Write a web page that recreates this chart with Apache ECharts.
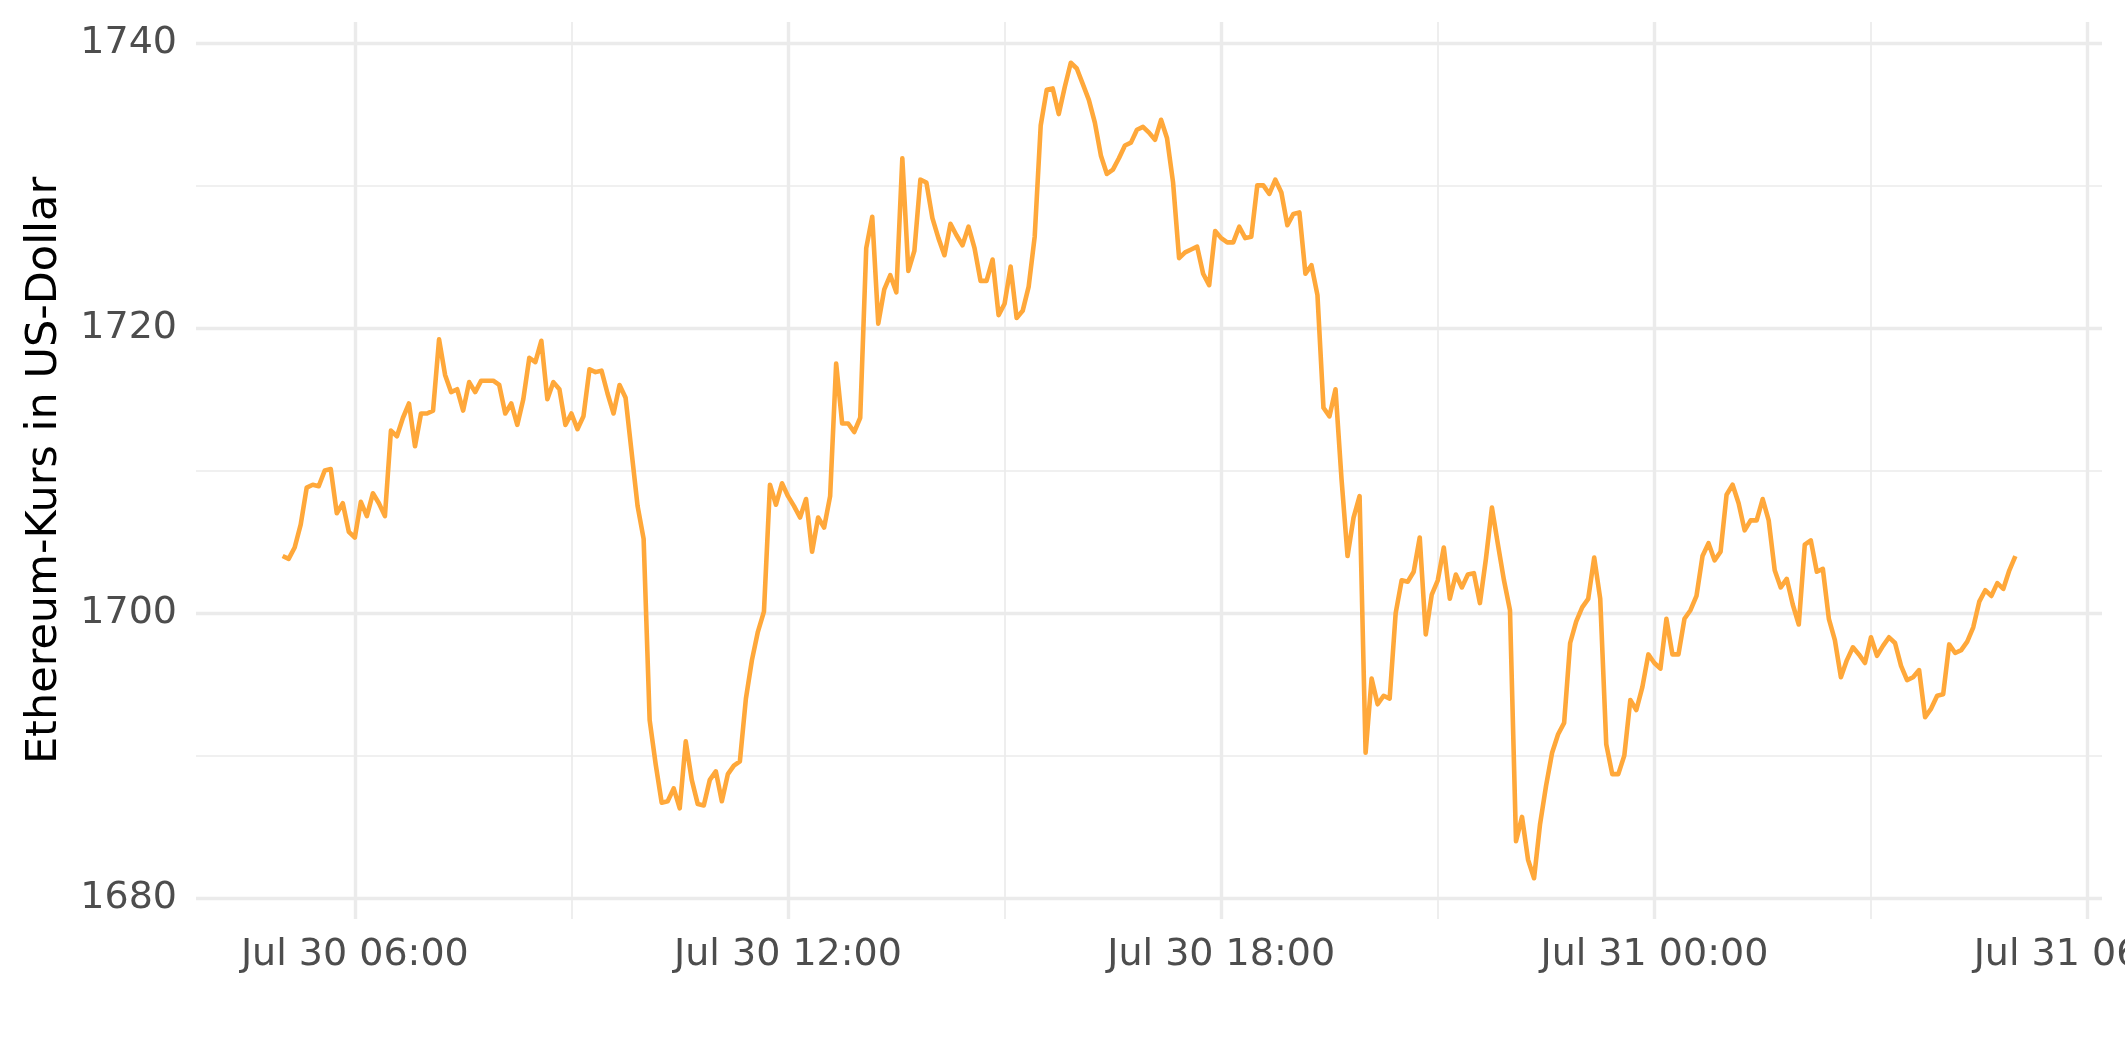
<!DOCTYPE html>
<html>
<head>
<meta charset="utf-8">
<script src="https://cdn.jsdelivr.net/npm/echarts@6/dist/echarts.min.js"></script>
<style>
html,body{margin:0;padding:0;background:#ffffff;}
#chart{width:2125px;height:1062px;}
</style>
</head>
<body>
<div id="chart"></div>
<script>
// Time axis: hours counted from Jul 30 00:00; one price every 5 minutes from 05:00
const startHour = 5;
const stepMinutes = 5;

// Ethereum price in US-Dollar
const prices = [
1704.0,1703.8,1704.6,1706.2,1708.8,1709.0,1708.9,1710.0,1710.1,1707.0,
1707.7,1705.7,1705.3,1707.8,1706.8,1708.4,1707.7,1706.8,1712.8,1712.4,
1713.7,1714.7,1711.7,1714.0,1714.0,1714.2,1719.2,1716.7,1715.5,1715.7,
1714.2,1716.2,1715.5,1716.3,1716.3,1716.3,1716.0,1714.0,1714.7,1713.2,
1715.0,1717.9,1717.6,1719.1,1715.0,1716.2,1715.7,1713.2,1714.0,1712.9,
1713.8,1717.1,1716.9,1717.0,1715.4,1714.0,1716.0,1715.1,1711.3,1707.5,
1705.2,1692.5,1689.4,1686.7,1686.8,1687.7,1686.3,1691.0,1688.3,1686.6,
1686.5,1688.3,1688.9,1686.8,1688.7,1689.3,1689.6,1694.0,1696.7,1698.7,
1700.1,1709.0,1707.6,1709.1,1708.2,1707.5,1706.7,1708.0,1704.3,1706.7,
1706.0,1708.2,1717.5,1713.3,1713.3,1712.7,1713.7,1725.6,1727.8,1720.3,
1722.7,1723.7,1722.5,1731.9,1724.0,1725.4,1730.4,1730.2,1727.7,1726.3,
1725.1,1727.3,1726.5,1725.8,1727.1,1725.6,1723.3,1723.3,1724.8,1720.9,
1721.7,1724.3,1720.7,1721.2,1722.9,1726.4,1734.2,1736.7,1736.8,1735.0,
1736.9,1738.6,1738.2,1737.1,1736.0,1734.4,1732.1,1730.8,1731.1,1731.9,
1732.8,1733.0,1733.9,1734.1,1733.7,1733.2,1734.6,1733.3,1730.2,1724.9,
1725.3,1725.5,1725.7,1723.8,1723.0,1726.8,1726.3,1726.0,1726.0,1727.1,
1726.3,1726.4,1730.0,1730.0,1729.4,1730.4,1729.5,1727.2,1728.0,1728.1,
1723.8,1724.4,1722.3,1714.4,1713.8,1715.7,1709.4,1704.0,1706.7,1708.2,
1690.2,1695.4,1693.6,1694.2,1694.0,1700.0,1702.3,1702.2,1702.9,1705.3,
1698.5,1701.3,1702.3,1704.6,1701.0,1702.7,1701.8,1702.7,1702.8,1700.7,
1703.8,1707.4,1704.8,1702.3,1700.2,1684.0,1685.7,1682.7,1681.4,1685.2,
1687.9,1690.2,1691.5,1692.3,1697.9,1699.4,1700.4,1701.0,1703.9,1701.0,
1690.8,1688.7,1688.7,1690.0,1693.9,1693.2,1694.8,1697.1,1696.5,1696.1,
1699.6,1697.1,1697.1,1699.6,1700.2,1701.2,1704.0,1704.9,1703.7,1704.3,
1708.3,1709.0,1707.7,1705.8,1706.5,1706.5,1708.0,1706.5,1703.0,1701.8,
1702.4,1700.6,1699.2,1704.8,1705.1,1702.9,1703.1,1699.6,1698.1,1695.5,
1696.7,1697.6,1697.1,1696.5,1698.3,1697.0,1697.7,1698.3,1697.9,1696.3,
1695.3,1695.5,1696.0,1692.7,1693.3,1694.2,1694.3,1697.8,1697.2,1697.4,
1698.0,1699.0,1700.8,1701.6,1701.2,1702.1,1701.7,1703.0,1704.0
];

// Tick values and labels
const xMajorTickHours = [6, 12, 18, 24, 30];
const xTickLabels = ['Jul 30 06:00', 'Jul 30 12:00', 'Jul 30 18:00', 'Jul 31 00:00', 'Jul 31 06:00'];
const yMajorTicks = [1680, 1700, 1720, 1740];
const yTitle = 'Ethereum-Kurs in US-Dollar';

// ---- build the chart ----
const hours = prices.map((_, i) => startHour + i * stepMinutes / 60);
const seriesData = prices.map((v, i) => [hours[i], v]);

const xLo = Math.min(...hours), xHi = Math.max(...hours);
const yLo = Math.min(...prices), yHi = Math.max(...prices);
const xPad = (xHi - xLo) * 0.05, yPad = (yHi - yLo) * 0.05;
const xMin = xLo - xPad, xMax = xHi + xPad;
const yMin = yLo - yPad, yMax = yHi + yPad;

const GRID = '#EBEBEB';
const FONT = 'DejaVu Sans';
const MAJOR_W = 3.4, MINOR_W = 1.7;
const TICK_FS = 38;

function xLabel(v) {
  const k = xMajorTickHours.findIndex(h => Math.abs(h - v) < 1e-6);
  return k >= 0 ? xTickLabels[k] : '';
}
function yLabel(v) {
  return yMajorTicks.some(t => Math.abs(t - v) < 1e-6) ? String(Math.round(v)) : '';
}

const chart = echarts.init(document.getElementById('chart'), null, {renderer: 'canvas'});
chart.setOption({
  animation: false,
  backgroundColor: '#ffffff',
  grid: {left: 196, right: 23, top: 22, bottom: 143, containLabel: false, outerBoundsMode: 'none'},
  xAxis: [
    { // minor vertical grid (every 3 hours)
      type: 'value', min: xMin, max: xMax, minInterval: 3, maxInterval: 3,
      axisLine: {show: false}, axisTick: {show: false}, axisLabel: {show: false},
      splitLine: {show: true, showMinLine: false, showMaxLine: false, lineStyle: {color: GRID, width: MINOR_W}}
    },
    { // major vertical grid + labels (every 6 hours)
      type: 'value', min: xMin, max: xMax, minInterval: 6, maxInterval: 6, position: 'bottom',
      axisLine: {show: false}, axisTick: {show: false},
      axisLabel: {show: true, formatter: xLabel, showMinLabel: false, showMaxLabel: false,
        fontFamily: FONT, fontSize: TICK_FS, color: '#4D4D4D', margin: 17},
      splitLine: {show: true, showMinLine: false, showMaxLine: false, lineStyle: {color: GRID, width: MAJOR_W}}
    }
  ],
  yAxis: [
    { // minor horizontal grid (every 10)
      type: 'value', min: yMin, max: yMax, minInterval: 10, maxInterval: 10,
      axisLine: {show: false}, axisTick: {show: false}, axisLabel: {show: false},
      splitLine: {show: true, showMinLine: false, showMaxLine: false, lineStyle: {color: GRID, width: MINOR_W}}
    },
    { // major horizontal grid + labels (every 20)
      type: 'value', min: yMin, max: yMax, minInterval: 20, maxInterval: 20, position: 'left',
      axisLine: {show: false}, axisTick: {show: false},
      axisLabel: {show: true, formatter: yLabel, showMinLabel: false, showMaxLabel: false,
        fontFamily: FONT, fontSize: TICK_FS, color: '#4D4D4D', margin: 19},
      splitLine: {show: true, showMinLine: false, showMaxLine: false, lineStyle: {color: GRID, width: MAJOR_W}},
      name: yTitle, nameLocation: 'middle', nameRotate: 90, nameGap: 130,
      nameTextStyle: {fontFamily: FONT, fontSize: 43, color: '#000000'}
    }
  ],
  series: [{
    type: 'line', xAxisIndex: 1, yAxisIndex: 1,
    data: seriesData, showSymbol: false, symbol: 'none', smooth: false,
    lineStyle: {color: '#FFA83A', width: 4.6, join: 'round'},
    z: 5
  }]
});
</script>
</body>
</html>
